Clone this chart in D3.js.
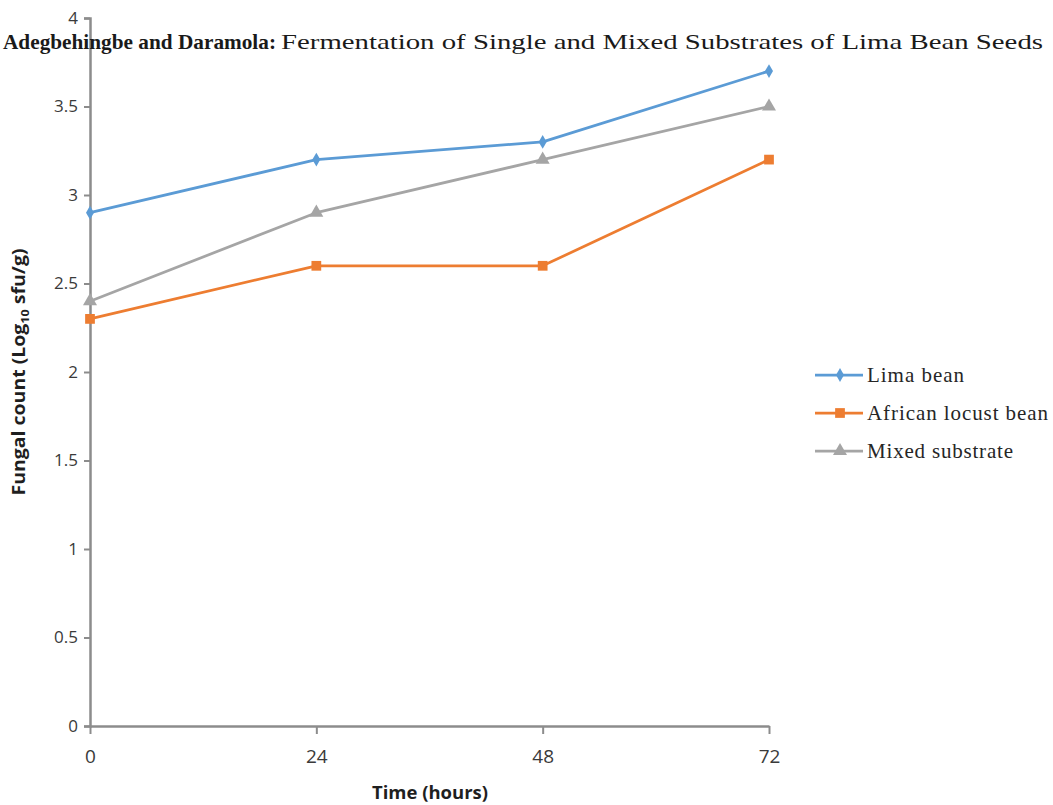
<!DOCTYPE html>
<html><head><meta charset="utf-8">
<script src="https://cdn.jsdelivr.net/npm/d3@7"></script>
<style>body{margin:0;background:#fff;} svg{display:block;}</style>
</head><body>
<script>
const hours = [0, 24, 48, 72];
const xTicks = [0, 24, 48, 72];
const yTicks = [0, 0.5, 1, 1.5, 2, 2.5, 3, 3.5, 4];
const limaBean = [2.9, 3.2, 3.3, 3.7];
const africanLocustBean = [2.3, 2.6, 2.6, 3.2];
const mixedSubstrate = [2.4, 2.9, 3.2, 3.5];
const seriesNames = ["Lima bean", "African locust bean", "Mixed substrate"];

const W = 1053, H = 805;
const svg = d3.select("body").append("svg").attr("width", W).attr("height", H);

const x = d3.scaleLinear().domain([0, 72]).range([90, 769]);
const y = d3.scaleLinear().domain([0, 4]).range([726, 18]);

const axisColor = "#8c8c8c";
const tickFont = "'Open Sans', 'Liberation Sans', sans-serif";
const serif = "'Liberation Serif', 'DejaVu Serif', serif";

// Y axis
const ya = svg.append("g").attr("transform", "translate(90,0)")
  .call(d3.axisLeft(y).tickValues(yTicks).tickSize(6).tickPadding(6).tickFormat(d3.format("")));
ya.select(".domain").attr("stroke", axisColor).attr("stroke-width", 2.5);
ya.selectAll(".tick line").attr("stroke", axisColor).attr("stroke-width", 2);
ya.selectAll(".tick text").attr("fill", "#3a3a3a").style("font-family", tickFont).style("font-size", "17px");

// X axis
const xa = svg.append("g").attr("transform", "translate(0,726)")
  .call(d3.axisBottom(x).tickValues(xTicks).tickSize(8).tickSizeOuter(0).tickPadding(0));
xa.select(".domain").attr("stroke", axisColor).attr("stroke-width", 2.5);
xa.selectAll(".tick line").attr("stroke", axisColor).attr("stroke-width", 2);
xa.selectAll(".tick text").attr("fill", "#3a3a3a").attr("dy", null).attr("y", 37)
  .style("font-family", tickFont).style("font-size", "19px");

// Axis titles
svg.append("text").attr("x", 430).attr("y", 799).attr("text-anchor", "middle")
  .style("font-family", tickFont).style("font-weight", "bold").style("font-size", "18px").attr("fill", "#1f1f1f")
  .attr("textLength", 116).attr("lengthAdjust", "spacingAndGlyphs")
  .text("Time (hours)");

const yt = svg.append("text").attr("transform", "translate(25,372) rotate(-90)").attr("text-anchor", "middle")
  .style("font-family", tickFont).style("font-weight", "bold").style("font-size", "17px").attr("fill", "#1f1f1f")
  .attr("textLength", 247).attr("lengthAdjust", "spacingAndGlyphs");
yt.append("tspan").text("Fungal count (Log");
yt.append("tspan").attr("dy", 4).style("font-size", "11px").text("10");
yt.append("tspan").attr("dy", -4).text(" sfu/g)");

const series = [
  {name: seriesNames[0], values: limaBean, color: "#5b9bd5", marker: "diamond", len: 97},
  {name: seriesNames[1], values: africanLocustBean, color: "#ed7d31", marker: "square", len: 181},
  {name: seriesNames[2], values: mixedSubstrate, color: "#a5a5a5", marker: "triangle", len: 146}
];

const line = d3.line().x((d, i) => x(hours[i])).y(d => y(d));

function markerPath(type) {
  if (type === "diamond") return d3.symbol().type(d3.symbolDiamond).size(55)();
  if (type === "square") return d3.symbol().type(d3.symbolSquare).size(95)();
  return d3.symbol().type(d3.symbolTriangle).size(85)();
}

// draw order: gray, orange, blue
[series[2], series[1], series[0]].forEach(s => {
  svg.append("path").datum(s.values).attr("d", line)
    .attr("fill", "none").attr("stroke", s.color).attr("stroke-width", 2.75).attr("stroke-linejoin", "round");
  svg.selectAll(null).data(s.values).enter().append("path")
    .attr("d", markerPath(s.marker))
    .attr("transform", (d, i) => `translate(${x(hours[i])},${y(d)})`)
    .attr("fill", s.color);
});

// Legend
const legY = [375, 413, 451];
series.forEach((s, i) => {
  const g = svg.append("g").attr("transform", `translate(0,${legY[i]})`);
  g.append("line").attr("x1", 815).attr("x2", 863).attr("y1", 0).attr("y2", 0)
    .attr("stroke", s.color).attr("stroke-width", 2.75);
  g.append("path").attr("d", markerPath(s.marker)).attr("transform", "translate(840,0)").attr("fill", s.color);
  g.append("text").attr("x", 867).attr("y", 7)
    .style("font-family", serif).style("font-size", "21px").attr("fill", "#262626")
    .attr("textLength", s.len).attr("lengthAdjust", "spacing")
    .text(s.name);
});

// Header (journal running head, overlapping chart)
svg.append("text").attr("x", 3).attr("y", 49)
  .style("font-family", serif).style("font-weight", "bold").style("font-size", "22px").attr("fill", "#1a1a1a")
  .attr("textLength", 273).attr("lengthAdjust", "spacingAndGlyphs")
  .text("Adegbehingbe and Daramola:");
svg.append("text").attr("x", 281).attr("y", 49)
  .style("font-family", serif).style("font-size", "22px").attr("fill", "#1a1a1a")
  .attr("textLength", 762).attr("lengthAdjust", "spacingAndGlyphs")
  .text("Fermentation of Single and Mixed Substrates of Lima Bean Seeds");
</script>
</body></html>
